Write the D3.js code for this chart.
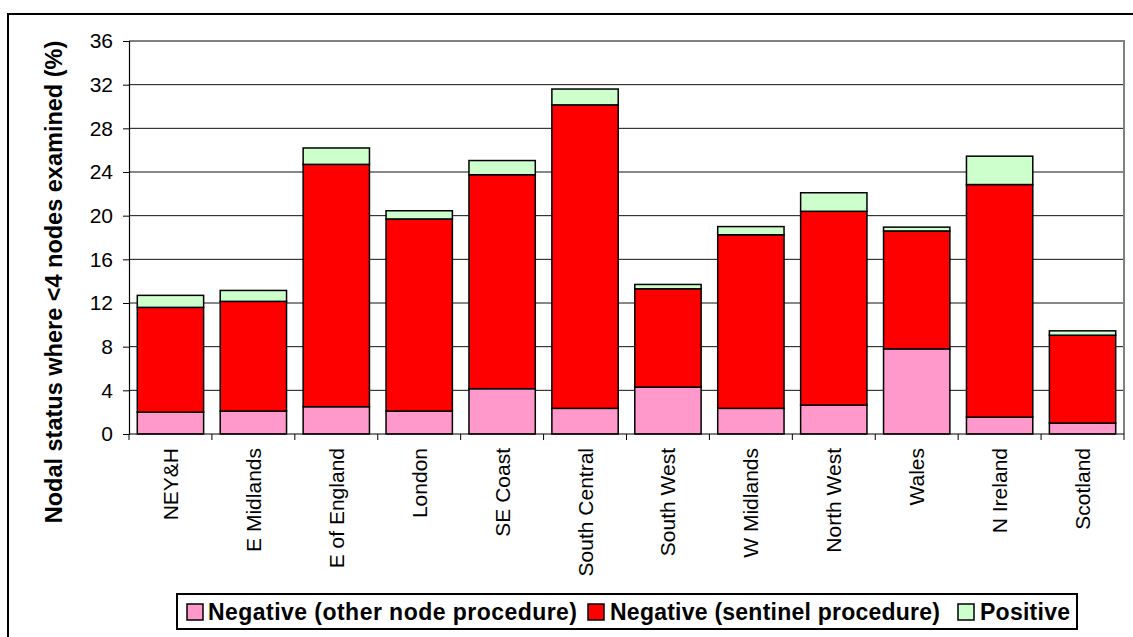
<!DOCTYPE html>
<html><head><meta charset="utf-8">
<script src="https://cdn.jsdelivr.net/npm/d3@7"></script>
<style>
html,body{margin:0;padding:0;background:#fff;}
svg{display:block;font-family:"Liberation Sans",Arial,sans-serif;}
</style></head>
<body>
<svg id="chart" width="1133" height="637"></svg>
<script>
const categories = ["NEY&H","E Midlands","E of England","London","SE Coast","South Central","South West","W Midlands","North West","Wales","N Ireland","Scotland"];
const negOther    = [2.0, 2.1, 2.5, 2.1, 4.15, 2.35, 4.3, 2.35, 2.65, 7.8, 1.55, 1.0];
const negSentinel = [9.6, 10.05, 22.2, 17.6, 19.6, 27.8, 9.0, 15.9, 17.75, 10.8, 21.3, 8.05];
const positive    = [1.1, 1.0, 1.5, 0.75, 1.3, 1.45, 0.4, 0.75, 1.7, 0.35, 2.6, 0.4];
const seriesNames = ["Negative (other node procedure)","Negative (sentinel procedure)","Positive"];
const seriesColors = ["#FF99CC","#FF0000","#CCFFCC"];
const yTicks = [0,4,8,12,16,20,24,28,32,36];
const yTitle = "Nodal status where <4 nodes examined (%)";

const svg = d3.select("#chart");
const L = 129, R = 1124, T = 41, B = 434;

// outer chart border
svg.append("rect").attr("x",8).attr("y",14).attr("width",1150).attr("height",650)
  .attr("fill","none").attr("stroke","#000").attr("stroke-width",2);

const x = d3.scaleBand().domain(categories).range([L,R]).paddingInner(0.2).paddingOuter(0.1);
const y = d3.scaleLinear().domain([0,36]).range([B,T]);

// gridlines
svg.append("g").selectAll("line").data(yTicks.filter(d=>d>0 && d<36)).join("line")
  .attr("x1",L).attr("x2",R).attr("y1",d=>y(d)).attr("y2",d=>y(d))
  .attr("stroke","#111").attr("stroke-width",1);

// plot border top/right gray
svg.append("path").attr("d",`M${L},${T}H${R}V${B}`).attr("fill","none")
  .attr("stroke","#808080").attr("stroke-width",2);

// stacked data
const rows = categories.map((c,i)=>({cat:c, a:negOther[i], b:negSentinel[i], c:positive[i]}));
const stack = d3.stack().keys(["a","b","c"])(rows);

svg.append("g").selectAll("g").data(stack).join("g")
  .attr("fill",(d,i)=>seriesColors[i])
  .selectAll("rect").data(d=>d).join("rect")
  .attr("x",d=>x(d.data.cat)).attr("width",x.bandwidth())
  .attr("y",d=>y(d[1])).attr("height",d=>y(d[0])-y(d[1]))
  .attr("stroke","#000").attr("stroke-width",1.5);

// y axis
const yAxis = d3.axisLeft(y).tickValues(yTicks).tickSize(6).tickPadding(10).tickFormat(d3.format("d"));
const gy = svg.append("g").attr("transform",`translate(${L},0)`).call(yAxis);
gy.select(".domain").attr("stroke","#000").attr("stroke-width",1.2);
gy.selectAll(".tick line").attr("stroke","#000");
gy.selectAll("text").attr("font-size","21px").attr("fill","#000")
  .attr("font-family","'Liberation Sans',Arial,sans-serif");

// x axis (ticks at band boundaries)
svg.append("line").attr("x1",L).attr("x2",R).attr("y1",B).attr("y2",B).attr("stroke","#000").attr("stroke-width",1.2);
const bounds = categories.map(c=>x(c) - x.step()*x.paddingInner()/2);
bounds.push(R);
svg.append("g").selectAll("line").data(bounds).join("line")
  .attr("x1",d=>d).attr("x2",d=>d).attr("y1",B).attr("y2",B+6).attr("stroke","#000");

svg.append("g").selectAll("text").data(categories).join("text")
  .attr("transform",d=>`translate(${x(d)+x.bandwidth()/2},448) rotate(-90)`)
  .attr("text-anchor","end").attr("dominant-baseline","central")
  .attr("font-size","21px").attr("fill","#000").text(d=>d);

// y title
svg.append("text").attr("transform","translate(54,282) rotate(-90)")
  .attr("text-anchor","middle").attr("dominant-baseline","central")
  .attr("font-size","23.5px").attr("font-weight","bold").text(yTitle);

// legend
const lg = svg.append("g");
lg.append("rect").attr("x",177).attr("y",594).attr("width",900).attr("height",35)
  .attr("fill","#fff").attr("stroke","#000").attr("stroke-width",2);
const swX = [187,588,958], txX = [208,610,980], txW = [369,330,90];
seriesNames.forEach((n,i)=>{
  lg.append("rect").attr("x",swX[i]).attr("y",604).attr("width",16).attr("height",16)
    .attr("fill",seriesColors[i]).attr("stroke","#000").attr("stroke-width",1.5);
  lg.append("text").attr("x",txX[i]).attr("y",612).attr("dominant-baseline","central")
    .attr("font-size","23px").attr("font-weight","bold")
    .attr("textLength",txW[i]).attr("lengthAdjust","spacing").text(n);
});
</script>
</body></html>
